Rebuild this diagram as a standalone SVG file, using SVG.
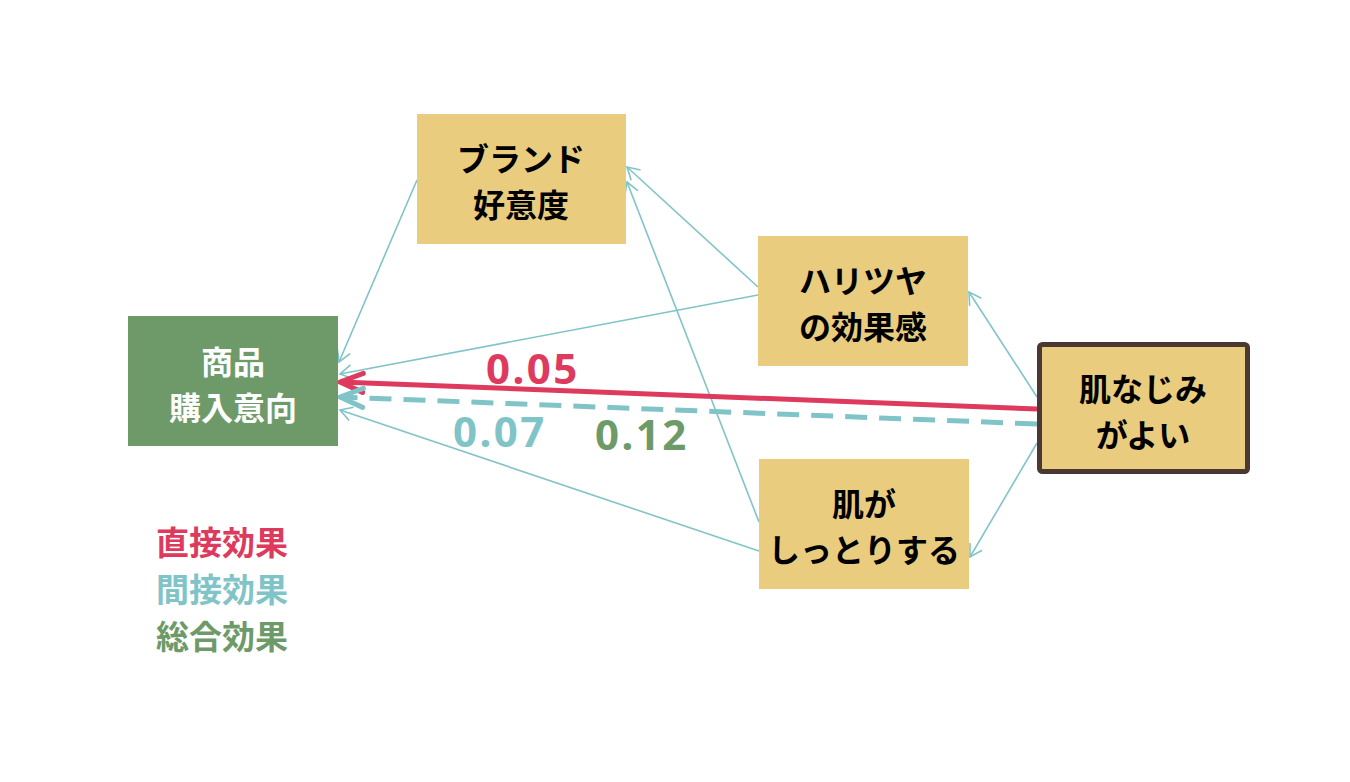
<svg xmlns="http://www.w3.org/2000/svg" width="1350" height="782" viewBox="0 0 1350 782">
<style>
.box{fill:#e9cc7e}
.t{font-family:"Noto Sans CJK JP","Noto Sans",sans-serif;font-weight:bold;font-size:32px;text-anchor:middle;fill:#000}
.w{fill:#fff}
.thin{fill:none;stroke:#80c4c8;stroke-width:1.6;marker-end:url(#at)}
.num{font-family:"Noto Sans","Noto Sans CJK JP",sans-serif;font-weight:bold;font-size:42px;letter-spacing:2.5px}
.leg{font-family:"Noto Sans CJK JP",sans-serif;font-weight:bold;font-size:33px}
</style>
<defs>
<marker id="at" markerWidth="20" markerHeight="20" refX="14" refY="8" orient="auto" markerUnits="userSpaceOnUse">
<path d="M2,1 L14,8 L2,15" fill="none" stroke="#80c4c8" stroke-width="1.6"/>
</marker>
<marker id="ar" markerWidth="34" markerHeight="30" refX="28" refY="15" orient="auto" markerUnits="userSpaceOnUse">
<path d="M5,5.5 L28,15 L5,24.5" fill="none" stroke="#dd3a5e" stroke-width="5" stroke-linecap="round" stroke-linejoin="round"/>
</marker>
<marker id="ad" markerWidth="34" markerHeight="30" refX="28" refY="15" orient="auto" markerUnits="userSpaceOnUse">
<path d="M5,5.5 L28,15 L5,24.5" fill="none" stroke="#80c4c8" stroke-width="5" stroke-dasharray="none" stroke-linecap="round" stroke-linejoin="round"/>
</marker>
</defs>
<rect width="1350" height="782" fill="#fff"/>
<g id="connectors">
<line class="thin" x1="417" y1="180" x2="339" y2="362"/>
<line class="thin" x1="758" y1="295" x2="340" y2="374"/>
<line class="thin" x1="758" y1="287" x2="627" y2="167"/>
<line class="thin" x1="759" y1="522" x2="627" y2="182"/>
<line class="thin" x1="759" y1="551" x2="340" y2="410"/>
<line class="thin" x1="1037" y1="397" x2="969" y2="292"/>
<line class="thin" x1="1037" y1="443" x2="970" y2="557"/>
<line x1="1037" y1="409" x2="340" y2="382" stroke="#dd3a5e" stroke-width="5" marker-end="url(#ar)"/>
<line x1="1037" y1="424" x2="340" y2="397" stroke="#80c4c8" stroke-width="5" stroke-dasharray="22,12" marker-end="url(#ad)"/>
</g>
<g id="n-kounyu">
<rect x="128" y="316" width="210" height="130" fill="#6e9a6a"/>
<text class="t w" x="233" y="374">商品</text>
<text class="t w" x="233" y="420">購入意向</text>
</g>
<g id="n-brand">
<rect class="box" x="417" y="114" width="209" height="130"/>
<text class="t" x="521" y="171">ブランド</text>
<text class="t" x="521" y="217">好意度</text>
</g>
<g id="n-haritsuya">
<rect class="box" x="758" y="236" width="210" height="130"/>
<text class="t" x="863" y="293">ハリツヤ</text>
<text class="t" x="863" y="339">の効果感</text>
</g>
<g id="n-shittori">
<rect class="box" x="759" y="459" width="210" height="130"/>
<text class="t" x="864" y="516">肌が</text>
<text class="t" x="864" y="562">しっとりする</text>
</g>
<g id="n-hadanajimi">
<rect x="1039.5" y="344.5" width="208" height="127" rx="3" fill="#e9cc7e" stroke="#4b3832" stroke-width="5"/>
<text class="t" x="1143" y="401">肌なじみ</text>
<text class="t" x="1143" y="447">がよい</text>
</g>
<g id="labels">
<text class="num" x="486" y="384" fill="#dd3a5e">0.05</text>
<text class="num" x="453" y="447" fill="#80c4c8">0.07</text>
<text class="num" x="595" y="450" fill="#6e9a6a">0.12</text>
</g>
<g id="legend">
<text class="leg" x="156" y="555" fill="#dd3a5e">直接効果</text>
<text class="leg" x="156" y="602" fill="#80c4c8">間接効果</text>
<text class="leg" x="156" y="649" fill="#6e9a6a">総合効果</text>
</g>
</svg>
